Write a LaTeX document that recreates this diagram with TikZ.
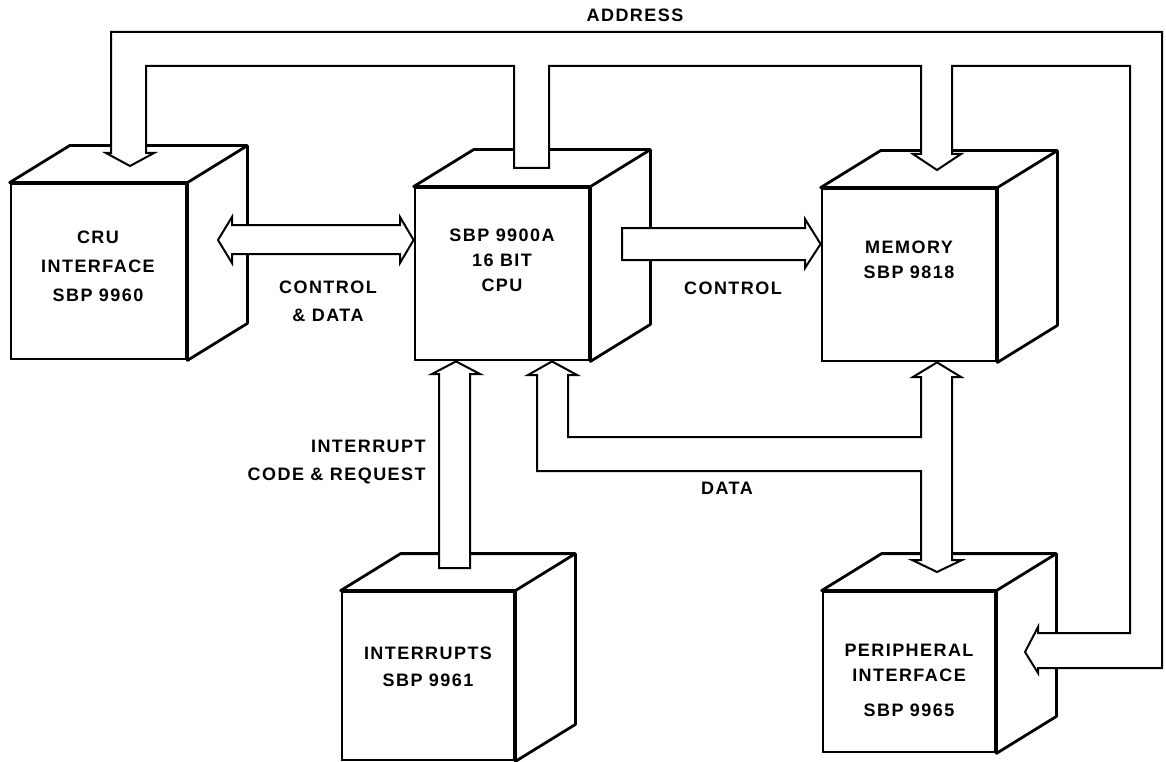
\documentclass[tikz,border=0pt]{standalone}
\usepackage{fontspec}
\setmainfont{Liberation Sans}[LetterSpace=8]
\usetikzlibrary{calc}

\begin{document}
\begin{tikzpicture}[x=1pt, y=-1pt, thick,
                    face/.style={rectangle, draw, line width=2.8pt, fill=white,
                                 minimum width=174pt, minimum height=172pt, inner sep=0pt},
                    boxtext/.style={align=center, inner sep=0pt,
                                    font=\bfseries\fontsize{18}{25}\selectfont},
                    bus/.style={draw, fill=white, line width=2pt, line join=miter},
                    buslabel/.style={align=center, inner sep=0pt,
                                     font=\bfseries\fontsize{18}{28}\selectfont}]

    \useasboundingbox (0,0) rectangle (1166,762);

    % front faces
    \node[face, minimum width=175pt, minimum height=175pt] (cru) at (98.5,271.5) {};
    \node[face] (cpu) at (502,274) {};
    \node[face] (mem) at (909,275) {};
    \node[face, minimum width=172pt, minimum height=168pt] (intr) at (428,676) {};
    \node[face, minimum width=172pt, minimum height=160pt] (per) at (909,672) {};

    % top and side of each cube
    \foreach \b in {cru,cpu,mem,intr,per} {
      \draw[line width=2.8pt, line join=round, fill=white]
        (\b.north west) -- ++(60,-37) -- ($(\b.north east)+(60,-37)$)
        -- ($(\b.south east)+(60,-37)$) -- (\b.south east) -- (\b.north east) -- cycle;
      \draw[line width=2.8pt] (\b.north east) -- ++(60,-37);
    }

    \node[boxtext] at (98,266)  {CRU\\[4pt]INTERFACE\\[4pt]SBP 9960};
    \node[boxtext] at (502,260) {SBP 9900A\\16 BIT\\CPU};
    \node[boxtext] at (909,260) {MEMORY\\SBP 9818};
    \node[boxtext] at (428,667) {INTERRUPTS\\[2pt]SBP 9961};
    \node[boxtext] at (909,680) {PERIPHERAL\\INTERFACE\\[10pt]SBP 9965};

    % address bus
    \draw[bus] (111,153) -- (111,32) -- (1162,32) -- (1162,668) -- (1038,668)
      -- (1038,673) -- (1025,652) -- (1038,627) -- (1038,633)
      -- (1130,633) -- (1130,66) -- (952,66) -- (952,154) -- (961,154) -- (937,170)
      -- (913,154) -- (921,154) -- (921,66) -- (549,66) -- (549,168) -- (514,168)
      -- (514,66) -- (146,66) -- (146,153) -- (154,153) -- (130,166) -- (106,153) -- cycle;

    % data bus
    \draw[bus] (552,0 |- cpu.south) -- (577,375) -- (568,375) -- (568,437) -- (921,437)
      -- (921,377) -- (913,377) -- (937,0 |- mem.south) -- (961,377) -- (952,377)
      -- (952,560) -- (962,560) -- (937,572) -- (912,560) -- (921,560) -- (921,471)
      -- (537,471) -- (537,375) -- (528,375) -- cycle;

    % interrupt code and request
    \draw[bus] (456,0 |- cpu.south) -- (480,374) -- (470,374) -- (470,568)
      -- (439,568) -- (439,374) -- (432,374) -- cycle;

    % control and data
    \draw[bus] (218,240) -- (232,217) -- (232,225) -- (400,225) -- (400,217)
      -- (cpu.west |- 0,240) -- (400,263) -- (400,254) -- (232,254) -- (232,263) -- cycle;

    % control
    \draw[bus] (622,228) -- (805,228) -- (805,219) -- (mem.west |- 0,244)
      -- (805,268) -- (805,260) -- (622,260) -- cycle;

    \node[buslabel] (addr) at (635,15) {ADDRESS};
    \node[buslabel] (cd) at (328,301) {CONTROL\\\& DATA};
    \node[buslabel] (ctl) at (733,288) {CONTROL};
    \node[buslabel, anchor=east, align=right] (irq) at (426,462) {INTERRUPT\\CODE \& REQUEST};
    \node[buslabel] (data) at (727,488) {DATA};
\end{tikzpicture}
\end{document}
